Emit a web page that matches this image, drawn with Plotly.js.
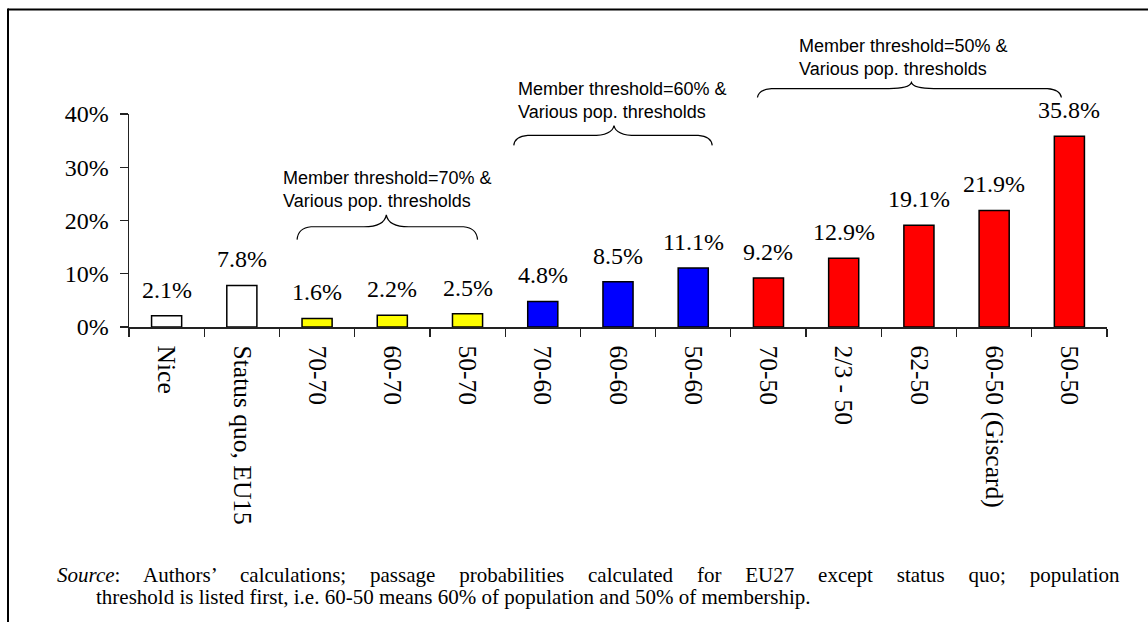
<!DOCTYPE html>
<html>
<head>
<meta charset="utf-8">
<script src="https://cdn.plot.ly/plotly-3.0.1.min.js"></script>
<style>
html,body{margin:0;padding:0;background:#fff;}
#chart{width:1148px;height:622px;}
</style>
</head>
<body>
<div id="chart"></div>
<script>
// ---- data ----
const categories = ['Nice','Status quo, EU15','70-70','60-70','50-70','70-60','60-60','50-60','70-50','2/3 - 50','62-50','60-50 (Giscard)','50-50'];
const passageProb = [2.1, 7.8, 1.6, 2.2, 2.5, 4.8, 8.5, 11.1, 9.2, 12.9, 19.1, 21.9, 35.8];
const barColors = ['#FFFFFF','#FFFFFF','#FFFF00','#FFFF00','#FFFF00','#0000FF','#0000FF','#0000FF','#FF0000','#FF0000','#FF0000','#FF0000','#FF0000'];
const valueLabels = passageProb.map(v => v.toFixed(1) + '%');
const groupLabels = ['Member threshold=70% &<br>Various pop. thresholds',
                     'Member threshold=60% &<br>Various pop. thresholds',
                     'Member threshold=50% &<br>Various pop. thresholds'];
const groupFirst = [2, 5, 8];
const groupLast  = [4, 7, 12];
const sourceLine1 = '<i>Source</i>: Authors’ calculations; passage probabilities calculated for EU27 except status quo; population';
const sourceLine2 = 'threshold is listed first, i.e. 60-50 means 60% of population and 50% of membership.';

const SERIF = 'Liberation Serif';
const SANS = 'Liberation Sans';

// ---- layout geometry (pixels) ----
const W = 1148, H = 622;
const M = {l: 129, r: 41, t: 113.5, b: 294.5};
const PW = W - M.l - M.r, PH = H - M.t - M.b;
const YMAX = 40;
const px2paperX = X => (X - M.l) / PW;
const px2paperY = Y => (H - M.b - Y) / PH;
const catPx = i => M.l + PW * (i + 0.5) / categories.length;
const valPx = v => H - M.b - PH * v / YMAX;

const braceLeftOff  = [-20, -29, -11];
const braceRightOff = [10, 19, -8];
const braceEndVal   = [16.4, 34.1, 43.1];
const braceDepth    = [13, 10, 9];
const bracePeak     = [12, 10, 6];
const braceMidOff   = [-1, 1, 2];
const labelDx = [-16, 2, 40];
const labelGap = 20;
const SOURCE_RIGHT = 1120;

function bracePath(g) {
  const x0 = catPx(groupFirst[g]) + braceLeftOff[g];
  const x1 = catPx(groupLast[g]) + braceRightOff[g];
  const xm = (x0 + x1) / 2 + braceMidOff[g];
  const yE = valPx(braceEndVal[g]);
  const yH = yE - braceDepth[g];
  const yP = yH - bracePeak[g];
  const r = 14;
  const pts = [
    ['M', x0, yE],
    ['Q', x0 + 1, yH + 1, x0 + r, yH],
    ['L', xm - r * 1.6, yH],
    ['Q', xm - 2, yH, xm, yP],
    ['Q', xm + 2, yH, xm + r * 1.6, yH],
    ['L', x1 - r, yH],
    ['Q', x1 - 1, yH + 1, x1, yE]
  ];
  let d = '';
  for (const p of pts) {
    d += p[0];
    for (let k = 1; k < p.length; k += 2) {
      d += ' ' + px2paperX(p[k]).toFixed(5) + ',' + px2paperY(p[k + 1]).toFixed(5);
    }
    d += ' ';
  }
  return {d: d, x0: x0, yP: yP};
}

const shapes = [];
const annotations = [];

shapes.push({type: 'line', xref: 'paper', yref: 'paper',
  x0: px2paperX(8), x1: px2paperX(1152), y0: px2paperY(8.5), y1: px2paperY(8.5),
  line: {color: '#000', width: 2}});
shapes.push({type: 'line', xref: 'paper', yref: 'paper',
  x0: px2paperX(8), x1: px2paperX(8), y0: px2paperY(7.5), y1: px2paperY(630),
  line: {color: '#000', width: 2}});

for (let g = 0; g < groupLabels.length; g++) {
  const b = bracePath(g);
  shapes.push({type: 'path', xref: 'paper', yref: 'paper', path: b.d,
    line: {color: '#000', width: 1.2}});
  annotations.push({xref: 'paper', yref: 'paper',
    x: px2paperX(b.x0 + labelDx[g]), y: px2paperY(b.yP - labelGap + 18),
    xanchor: 'left', yanchor: 'bottom', align: 'left', showarrow: false,
    text: groupLabels[g],
    font: {family: SANS, size: 18, color: '#000'}});
}

categories.forEach((c, i) => {
  annotations.push({x: c, y: passageProb[i], xref: 'x', yref: 'y',
    text: valueLabels[i], showarrow: false, yanchor: 'bottom', yshift: 11,
    font: {family: SERIF, size: 24, color: '#000'}});
});

annotations.push({xref: 'paper', yref: 'paper', x: px2paperX(55), y: px2paperY(577),
  xanchor: 'left', yanchor: 'middle', align: 'left', showarrow: false, text: sourceLine1,
  font: {family: SERIF, size: 21, color: '#000'}, name: 'source1'});
annotations.push({xref: 'paper', yref: 'paper', x: px2paperX(94), y: px2paperY(599),
  xanchor: 'left', yanchor: 'middle', align: 'left', showarrow: false, text: sourceLine2,
  font: {family: SERIF, size: 21, color: '#000'}});

const trace = {
  type: 'bar', x: categories, y: passageProb,
  marker: {color: barColors, line: {color: '#000', width: 1.5}},
  hoverinfo: 'skip'
};

const layout = {
  width: W, height: H,
  margin: {l: M.l, r: M.r, t: M.t, b: M.b, pad: 0},
  paper_bgcolor: '#fff', plot_bgcolor: '#fff',
  showlegend: false, bargap: 0.6,
  font: {family: SERIF, size: 24, color: '#000'},
  xaxis: {type: 'category', tickson: 'boundaries', ticks: 'outside', ticklen: 8, tickwidth: 1.3,
    tickcolor: '#222', showline: true, linecolor: '#222', linewidth: 1.5, tickangle: 90,
    ticklabelstandoff: 12, showgrid: false, zeroline: false,
    tickfont: {family: SERIF, size: 25.5, color: '#000'}},
  yaxis: {range: [0, YMAX], dtick: 10, ticksuffix: '%', ticks: 'outside', ticklen: 8, tickwidth: 1.3,
    tickcolor: '#222', showline: true, linecolor: '#222', linewidth: 1.5, showgrid: false,
    zeroline: false, ticklabelstandoff: 6,
    tickfont: {family: SERIF, size: 24, color: '#000'}},
  shapes: shapes,
  annotations: annotations
};

Plotly.newPlot('chart', [trace], layout, {displayModeBar: false, staticPlot: true}).then(gd => {
  // justify the first source line to the right edge, as in the original note
  const texts = gd.querySelectorAll('.annotation-text');
  texts.forEach(t => {
    if (t.textContent.indexOf('Source') === 0) {
      const bb = t.getBoundingClientRect();
      const spaces = (t.textContent.match(/ /g) || []).length;
      const extra = (SOURCE_RIGHT - bb.right) / spaces;
      if (extra > 0) t.style.wordSpacing = extra.toFixed(2) + 'px';
    }
  });
});
</script>
</body>
</html>
